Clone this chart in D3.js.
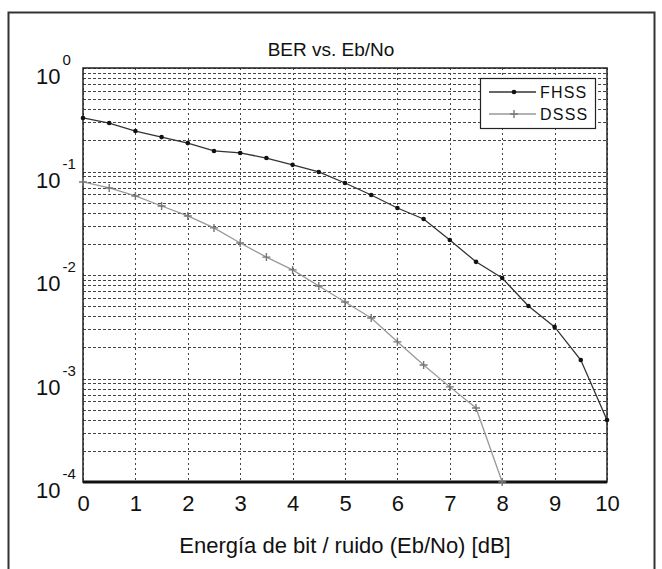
<!DOCTYPE html>
<html>
<head>
<meta charset="utf-8">
<script src="https://cdnjs.cloudflare.com/ajax/libs/d3/7.8.5/d3.min.js"></script>
<style>
  body { margin: 0; background: #fff; }
  svg text { font-family: "Liberation Sans", Arial, sans-serif; fill: #111; }
</style>
</head>
<body>
<div id="svg-container"></div>
<script>
//chart data
var ebno = [0, 0.5, 1, 1.5, 2, 2.5, 3, 3.5, 4, 4.5, 5, 5.5, 6, 6.5, 7, 7.5, 8, 8.5, 9, 9.5, 10];
var fhss = [0.329, 0.294, 0.246, 0.215, 0.188, 0.158, 0.151, 0.135, 0.116, 0.099, 0.0774,
            0.0593, 0.0444, 0.0348, 0.0218, 0.0134, 0.00935, 0.00502, 0.00315, 0.00151, 0.000397];
var dsssX = [0, 0.5, 1, 1.5, 2, 2.5, 3, 3.5, 4, 4.5, 5, 5.5, 6, 6.5, 7, 7.5, 8];
var dsss = [0.0792, 0.0693, 0.058, 0.0464, 0.0372, 0.0285, 0.0204, 0.0149, 0.0112, 0.00783,
            0.00548, 0.00384, 0.00226, 0.00135, 0.00083, 0.000519, 0.0001];
var xTicks = [0, 1, 2, 3, 4, 5, 6, 7, 8, 9, 10];
var yExps = [0, -1, -2, -3, -4];
var seriesNames = ['FHSS', 'DSSS'];

//layout
var width = 662, height = 569;
var pLeft = 83, pRight = 607, pTop = 68, pBottom = 482;

var svg = d3.select('#svg-container').append('svg')
  .attr('width', width)
  .attr('height', height);

//outer frame
svg.append('rect')
  .attr('x', 8.5)
  .attr('y', 12.5)
  .attr('width', 646)
  .attr('height', 570)
  .style('fill', 'none')
  .style('stroke', '#333')
  .style('stroke-width', 2);

//scales
var x = d3.scaleLinear().domain([0, 10]).range([pLeft, pRight]);
var y = d3.scaleLog().domain([1e-4, 1]).range([pBottom, pTop]);

//minor + major horizontal grid values
var yGrid = [];
yExps.forEach(function(e) {
  if (e === 0) return;
  for (var m = 1; m < 10; m++) yGrid.push(m * Math.pow(10, e));
});
yGrid.push(1);

var grid = svg.append('g').attr('class', 'grid');
grid.selectAll('line.h')
  .data(yGrid)
  .enter().append('line')
  .attr('class', 'h')
  .attr('x1', pLeft)
  .attr('x2', pRight)
  .attr('y1', function(d) { return Math.round(y(d)) + 0.5; })
  .attr('y2', function(d) { return Math.round(y(d)) + 0.5; })
  .style('stroke', '#444')
  .style('stroke-dasharray', '3,2');

grid.selectAll('line.v')
  .data(xTicks)
  .enter().append('line')
  .attr('class', 'v')
  .attr('x1', function(d) { return Math.round(x(d)) + 0.5; })
  .attr('x2', function(d) { return Math.round(x(d)) + 0.5; })
  .attr('y1', pTop)
  .attr('y2', pBottom)
  .style('stroke', '#444')
  .style('stroke-dasharray', '2,3');

//axes box
svg.append('rect')
  .attr('x', pLeft)
  .attr('y', pTop)
  .attr('width', pRight - pLeft)
  .attr('height', pBottom - pTop)
  .style('fill', 'none')
  .style('stroke', '#222')
  .style('stroke-width', 1.5);
svg.append('line')
  .attr('x1', pLeft)
  .attr('x2', pRight)
  .attr('y1', pBottom)
  .attr('y2', pBottom)
  .style('stroke', '#111')
  .style('stroke-width', 3);

//x axis
var xAxis = d3.axisBottom(x).tickValues(xTicks).tickSize(0).tickPadding(13).tickFormat(d3.format('d'));
svg.append('g')
  .attr('transform', 'translate(0,' + pBottom + ')')
  .call(xAxis)
  .call(function(g) { g.select('.domain').remove(); })
  .selectAll('text')
  .style('font-size', '22px')
  .style('font-family', '"Liberation Sans", Arial, sans-serif')
  .style('fill', '#111');

//y axis labels as 10^n
var yLab = svg.append('g').selectAll('text')
  .data(yExps)
  .enter().append('text')
  .attr('x', 36)
  .attr('y', function(d) { return y(Math.pow(10, d)) + 16; })
  .style('font-size', '22px');
yLab.append('tspan').text('10');
yLab.append('tspan')
  .attr('dx', 2)
  .attr('dy', -19)
  .style('font-size', '15px')
  .text(function(d) { return d === 0 ? '0' : '-' + Math.abs(d); });

//title and x label
svg.append('text')
  .attr('x', 331)
  .attr('y', 56)
  .attr('text-anchor', 'middle')
  .style('font-size', '19px')
  .text('BER vs. Eb/No');
svg.append('text')
  .attr('x', 345)
  .attr('y', 553)
  .attr('text-anchor', 'middle')
  .style('font-size', '22px')
  .text('Energía de bit / ruido (Eb/No) [dB]');

//lines
var line = d3.line()
  .x(function(d) { return x(d[0]); })
  .y(function(d) { return y(d[1]); });
var fhssPts = ebno.map(function(d, i) { return [d, fhss[i]]; });
var dsssPts = dsssX.map(function(d, i) { return [d, dsss[i]]; });

svg.append('path')
  .datum(dsssPts)
  .attr('d', line)
  .style('fill', 'none')
  .style('stroke', '#999')
  .style('stroke-width', 1.3);
svg.selectAll('path.plus')
  .data(dsssPts)
  .enter().append('path')
  .attr('class', 'plus')
  .attr('transform', function(d) { return 'translate(' + x(d[0]) + ',' + y(d[1]) + ')'; })
  .attr('d', 'M-4,0H4M0,-4V4')
  .style('stroke', '#777')
  .style('stroke-width', 1.4);

svg.append('path')
  .datum(fhssPts)
  .attr('d', line)
  .style('fill', 'none')
  .style('stroke', '#333')
  .style('stroke-width', 1.3);
svg.selectAll('circle.dot')
  .data(fhssPts)
  .enter().append('circle')
  .attr('class', 'dot')
  .attr('cx', function(d) { return x(d[0]); })
  .attr('cy', function(d) { return y(d[1]); })
  .attr('r', 2.3)
  .style('fill', '#111');

//legend
var lg = svg.append('g');
lg.append('rect')
  .attr('x', 480.5)
  .attr('y', 78.5)
  .attr('width', 115)
  .attr('height', 50)
  .style('fill', '#fff')
  .style('stroke', '#222')
  .style('stroke-width', 1.2);
var legendColors = ['#333', '#999'];
seriesNames.forEach(function(name, i) {
  var ly = 92 + i * 22;
  lg.append('line')
    .attr('x1', 489).attr('x2', 536)
    .attr('y1', ly).attr('y2', ly)
    .style('stroke', legendColors[i])
    .style('stroke-width', 1.3);
  if (i === 0) {
    lg.append('circle').attr('cx', 514).attr('cy', ly).attr('r', 2.3).style('fill', '#111');
  } else {
    lg.append('path')
      .attr('transform', 'translate(514,' + ly + ')')
      .attr('d', 'M-4,0H4M0,-4V4')
      .style('stroke', '#777')
      .style('stroke-width', 1.4);
  }
  lg.append('text')
    .attr('x', 540)
    .attr('y', ly + 6)
    .style('font-size', '16px')
    .style('letter-spacing', '1.2px')
    .text(name);
});
</script>
</body>
</html>
